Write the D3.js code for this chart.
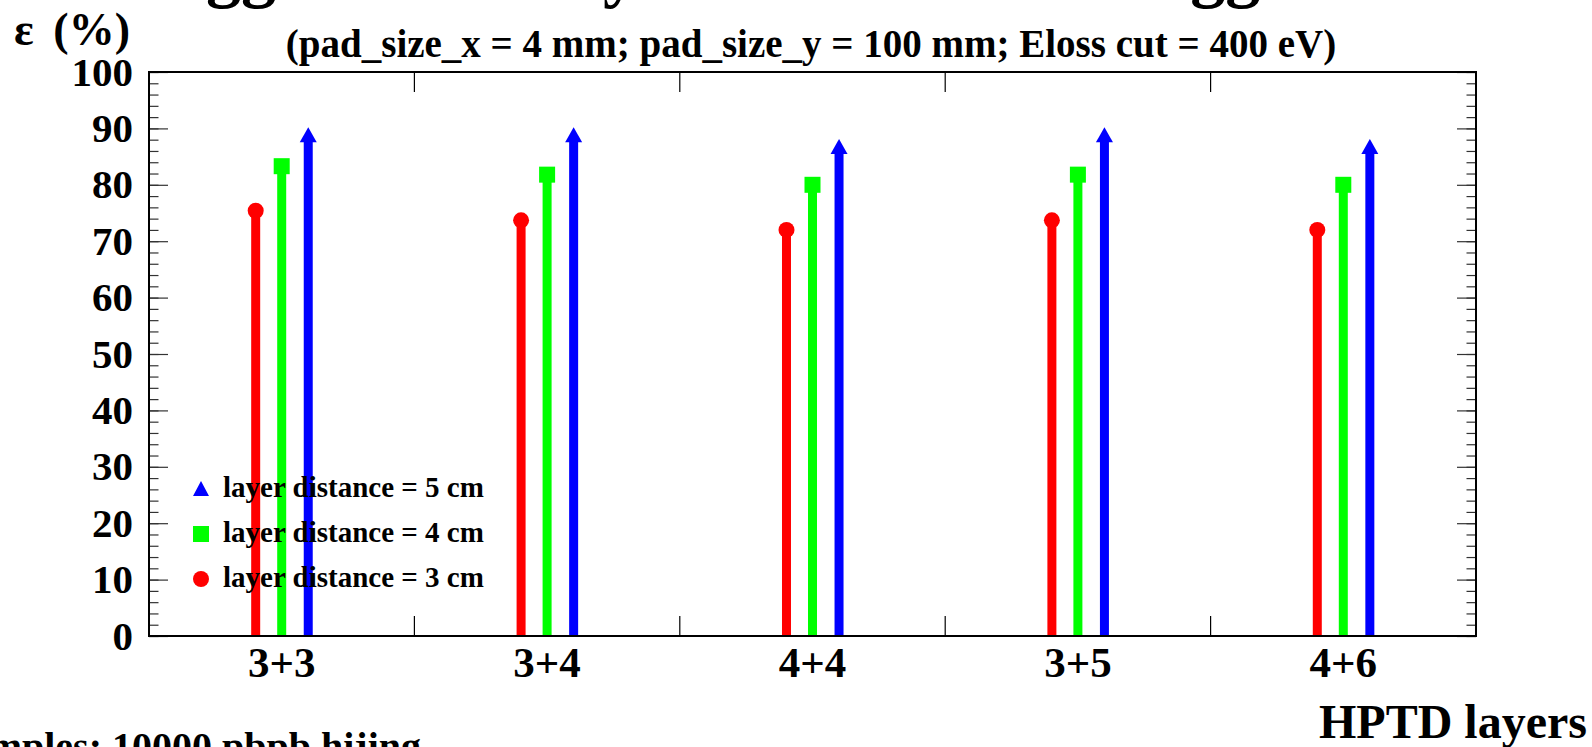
<!DOCTYPE html>
<html>
<head>
<meta charset="utf-8">
<script src="https://cdn.jsdelivr.net/npm/d3@7"></script>
<style>
  html, body { margin: 0; padding: 0; background: #fff; overflow: hidden; }
  svg { display: block; font-family: "Liberation Serif", "Times New Roman", serif; font-weight: bold; }
</style>
</head>
<body>
<svg id="chart" width="1592" height="747"></svg>
<script>
// HPTD layer combinations
const categories = ["3+3", "3+4", "4+4", "3+5", "4+6"];

// efficiency (%) per layer distance
const dist3cm = [75.4, 73.7, 72.0, 73.7, 72.0];
const dist4cm = [83.3, 81.8, 80.0, 81.8, 80.0];
const dist5cm = [90.2, 90.2, 88.1, 90.2, 88.1];

const seriesNames = ["layer distance = 3 cm", "layer distance = 4 cm", "layer distance = 5 cm"];
const yTicks = [0, 10, 20, 30, 40, 50, 60, 70, 80, 90, 100];

const width = 1592, height = 747;
const frame = { left: 149, right: 1476, top: 72, bottom: 636 };

const svg = d3.select("#chart");

const x = d3.scaleBand()
  .domain(categories)
  .range([frame.left, frame.right])
  .padding(0);

const y = d3.scaleLinear()
  .domain([0, 100])
  .range([frame.bottom, frame.top]);

// series: colour, marker, offset inside the bin
const series = [
  { name: seriesNames[0], values: dist3cm, color: "#ff0000", marker: "circle", shift: -0.098 },
  { name: seriesNames[1], values: dist4cm, color: "#00ff00", marker: "square", shift: 0 },
  { name: seriesNames[2], values: dist5cm, color: "#0000ff", marker: "arrow", shift: 0.1 }
];

const cx = (c, s) => x(c) + x.bandwidth() / 2 + s.shift * x.bandwidth();

// main title (mostly off the top of the canvas)
svg.append("text")
  .attr("x", 114)
  .attr("y", -6)
  .style("font-size", "70px")
  .text("Trigger efficiency for two HPTD Triggers");

// subtitle
svg.append("text")
  .attr("x", 811)
  .attr("y", 57)
  .attr("text-anchor", "middle")
  .style("font-size", "39px")
  .text("(pad_size_x = 4 mm; pad_size_y = 100 mm; Eloss cut = 400 eV)");

// y axis title
const yTitle = svg.append("text")
  .attr("x", 14)
  .attr("y", 45)
  .style("font-size", "46px");
yTitle.append("tspan").text("ε");
yTitle.append("tspan").attr("x", 130).attr("text-anchor", "end").text("(%)");

// x axis title
svg.append("text")
  .attr("x", 1587)
  .attr("y", 738)
  .attr("text-anchor", "end")
  .style("font-size", "48px")
  .text("HPTD layers");

// sample note (cut by the left edge)
svg.append("text")
  .attr("x", 421)
  .attr("y", 760)
  .attr("text-anchor", "end")
  .style("font-size", "40px")
  .text("Samples: 10000 pbpb hijing");

// y ticks, left and right, major + minor
const minor = d3.range(0, 101, 2);
const yAxisG = svg.append("g");
yAxisG.append("g")
  .attr("transform", `translate(${frame.left},0)`)
  .call(d3.axisLeft(y).tickValues(minor).tickSize(-9.5).tickFormat(""))
  .call(g => g.select(".domain").remove());
yAxisG.append("g")
  .attr("transform", `translate(${frame.left},0)`)
  .call(d3.axisLeft(y).tickValues(yTicks).tickSize(-19).tickPadding(16).tickFormat(d3.format("d")))
  .call(g => g.select(".domain").remove())
  .selectAll("text")
  .style("font-size", "41px")
  .style("font-family", "Liberation Serif, serif")
  .style("font-weight", "bold")
  .attr("fill", "#000");
yAxisG.append("g")
  .attr("transform", `translate(${frame.right},0)`)
  .call(d3.axisRight(y).tickValues(minor).tickSize(-9.5).tickFormat(""))
  .call(g => g.select(".domain").remove());
yAxisG.append("g")
  .attr("transform", `translate(${frame.right},0)`)
  .call(d3.axisRight(y).tickValues(yTicks).tickSize(-19).tickFormat(""))
  .call(g => g.select(".domain").remove());
yAxisG.selectAll("line").attr("stroke", "#333").attr("stroke-width", 1.2);

// x boundary ticks (top and bottom)
const bounds = categories.slice(1).map(c => x(c));
svg.append("g").selectAll("line.bt")
  .data(bounds).enter().append("line")
  .attr("x1", d => d).attr("x2", d => d)
  .attr("y1", frame.bottom).attr("y2", frame.bottom - 20)
  .attr("stroke", "#000").attr("stroke-width", 1.2);
svg.append("g").selectAll("line.tt")
  .data(bounds).enter().append("line")
  .attr("x1", d => d).attr("x2", d => d)
  .attr("y1", frame.top).attr("y2", frame.top + 20)
  .attr("stroke", "#000").attr("stroke-width", 1.2);

// x labels
svg.append("g")
  .attr("transform", `translate(0,${frame.bottom})`)
  .call(d3.axisBottom(x).tickSize(0).tickPadding(10))
  .call(g => g.select(".domain").remove())
  .selectAll("text")
  .style("font-size", "43px")
  .style("font-family", "Liberation Serif, serif")
  .style("font-weight", "bold")
  .attr("fill", "#000")
  .attr("dy", "0.71em");

// bars with markers
const barW = 9;
series.forEach(s => {
  const g = svg.append("g");
  categories.forEach((c, i) => {
    const v = s.values[i];
    const px = cx(c, s);
    const py = y(v);
    if (s.marker === "arrow") {
      const headH = 15, headW = 17;
      g.append("line")
        .attr("x1", px).attr("x2", px)
        .attr("y1", y(0)).attr("y2", py + headH - 1)
        .attr("stroke", s.color).attr("stroke-width", barW);
      g.append("path")
        .attr("d", `M${px},${py} L${px + headW / 2},${py + headH} L${px - headW / 2},${py + headH} Z`)
        .attr("fill", s.color);
    } else {
      g.append("line")
        .attr("x1", px).attr("x2", px)
        .attr("y1", y(0)).attr("y2", py)
        .attr("stroke", s.color).attr("stroke-width", barW);
      if (s.marker === "circle") {
        g.append("circle").attr("cx", px).attr("cy", py).attr("r", 8).attr("fill", s.color);
      } else {
        g.append("rect").attr("x", px - 8).attr("y", py - 8).attr("width", 16).attr("height", 16).attr("fill", s.color);
      }
    }
  });
});

// frame
svg.append("rect")
  .attr("x", frame.left).attr("y", frame.top)
  .attr("width", frame.right - frame.left).attr("height", frame.bottom - frame.top)
  .attr("fill", "none").attr("stroke", "#000").attr("stroke-width", 2);

// legend (top entry first)
const legendRows = [series[2], series[1], series[0]];
const legY = [489, 534, 579];
const leg = svg.append("g");
legendRows.forEach((s, i) => {
  const ly = legY[i], lx = 201;
  if (s.marker === "arrow") {
    leg.append("path").attr("d", `M${lx},${ly - 8} L${lx + 8},${ly + 7} L${lx - 8},${ly + 7} Z`).attr("fill", s.color);
  } else if (s.marker === "square") {
    leg.append("rect").attr("x", lx - 8).attr("y", ly - 8).attr("width", 16).attr("height", 16).attr("fill", s.color);
  } else {
    leg.append("circle").attr("cx", lx).attr("cy", ly).attr("r", 8).attr("fill", s.color);
  }
  leg.append("text")
    .attr("x", 223).attr("y", ly + 8)
    .style("font-size", "29px")
    .text(s.name);
});
</script>
</body>
</html>
